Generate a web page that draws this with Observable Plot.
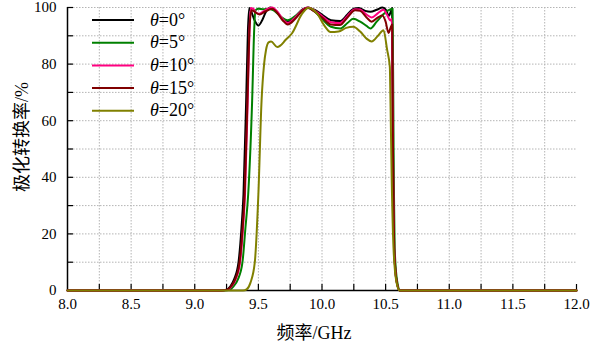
<!DOCTYPE html>
<html><head><meta charset="utf-8">
<script src="https://cdn.jsdelivr.net/npm/d3@7"></script>
<script src="https://cdn.jsdelivr.net/npm/@observablehq/plot@0.6"></script>
<style>
body{margin:0;background:#fff}
#chart{position:relative;width:609px;height:348px}
#chart svg text{font-family:"Liberation Serif","Times New Roman","Noto Sans CJK SC",serif !important;font-variant-numeric:normal !important}
</style>
</head><body><div id="chart"></div>
<script>
// frequency (GHz), polarization conversion rate (%)
const theta0 = [[8,0],[9.2,0],[9.25,0.3],[9.28,1.5],[9.31,4],[9.344,10],[9.367,22],[9.383,34],[9.404,67],[9.418,92],[9.428,99.8],[9.44,99],[9.47,95.5],[9.5,93.6],[9.53,95.5],[9.56,98.5],[9.595,100],[9.63,99],[9.68,96.5],[9.73,95],[9.79,96.8],[9.85,99.4],[9.89,100],[9.94,99.2],[10.0,97.5],[10.07,95.5],[10.145,95.2],[10.2,97.5],[10.25,99.6],[10.29,99.8],[10.34,98.8],[10.38,98.5],[10.43,99.2],[10.475,100],[10.505,99],[10.525,97],[10.54,98.5],[10.551,99.8],[10.556,60],[10.56,39],[10.567,15],[10.585,3.5],[10.61,0],[12,0]];
const theta5 = [[8,0],[9.23,0],[9.275,0.3],[9.305,1.5],[9.34,4],[9.375,10],[9.398,22],[9.42,34],[9.451,67],[9.467,92],[9.477,99],[9.5,99.6],[9.54,99.4],[9.58,99.6],[9.62,99],[9.67,97],[9.73,95.5],[9.79,97],[9.85,99.2],[9.89,99.9],[9.94,98.7],[10.0,96],[10.07,93.2],[10.145,92.6],[10.2,94.5],[10.245,96],[10.3,95],[10.35,93.5],[10.381,92.6],[10.43,95],[10.48,97.5],[10.52,99],[10.554,99.6],[10.56,70],[10.564,40],[10.571,15],[10.59,3.5],[10.615,0],[12,0]];
const theta10 = [[8,0],[9.21,0],[9.26,0.3],[9.29,1.5],[9.322,4],[9.356,10],[9.379,22],[9.395,34],[9.416,67],[9.43,92],[9.44,99.8],[9.46,99.5],[9.485,98],[9.505,97.8],[9.535,98.5],[9.57,99.5],[9.608,100],[9.65,98.5],[9.69,96],[9.73,94.5],[9.79,96.5],[9.85,99.3],[9.89,100],[9.94,99],[10.0,97],[10.07,94.8],[10.14,94.5],[10.2,97],[10.26,99.4],[10.3,99.3],[10.35,97.5],[10.39,96.5],[10.44,98],[10.483,99.2],[10.51,97.5],[10.538,95.4],[10.548,96],[10.553,80],[10.557,50],[10.562,30],[10.569,13],[10.587,3],[10.612,0],[12,0]];
const theta15 = [[8,0],[9.21,0],[9.255,0.3],[9.285,1.5],[9.318,4],[9.352,10],[9.376,22],[9.392,34],[9.414,67],[9.43,92],[9.445,99],[9.47,98.5],[9.51,97.5],[9.55,98.5],[9.61,99.6],[9.65,98],[9.69,95.5],[9.73,94],[9.79,96],[9.85,99],[9.89,99.8],[9.94,98.6],[10.0,96.5],[10.07,94],[10.14,93.8],[10.2,96.5],[10.26,99],[10.3,98.8],[10.35,96.5],[10.39,95],[10.44,96.5],[10.475,97.2],[10.5,95],[10.523,91],[10.54,93],[10.552,94],[10.556,60],[10.56,39],[10.567,15],[10.586,3.5],[10.611,0],[12,0]];
const theta20 = [[8,0],[9.38,0],[9.41,0.5],[9.438,2.8],[9.472,10],[9.5,34],[9.525,67],[9.545,80],[9.56,85],[9.58,87.7],[9.6,88],[9.648,86],[9.674,86.6],[9.713,88.5],[9.766,91],[9.844,97.8],[9.894,99.9],[9.962,97.8],[10.02,93.5],[10.067,91.3],[10.13,91.5],[10.19,92.8],[10.245,93.2],[10.3,91.5],[10.35,89],[10.39,88],[10.44,90],[10.483,92],[10.512,85],[10.533,79],[10.538,67],[10.548,39],[10.562,15],[10.585,3],[10.61,0],[12,0]];

const seriesNames = ["0°","5°","10°","15°","20°"];
const seriesColors = ["#000000","#008000","#ff0080","#800000","#808000"];
const seriesData = [theta0, theta5, theta10, theta15, theta20];

const xTickLabels = [8.0,8.5,9.0,9.5,10.0,10.5,11.0,11.5,12.0];
const xMinorTicks = [8.25,8.5,8.75,9.0,9.25,9.5,9.75,10.0,10.25,10.5,10.75,11.0,11.25,11.5,11.75,12.0];
const xGridLines = [8.25,8.5,8.75,9.0,9.25,9.5,9.75,10.0,10.25,10.5,10.75,11.0,11.25,11.5,11.75];
const yTickLabels = [0,20,40,60,80,100];
const yMinorTicks = [10,20,30,40,50,60,70,80,90,100];
const xTitle = "频率/GHz";
const yTitle = "极化转换率/%";

const W = 609, H = 348, mL = 67, mR = 33, mT = 7, mB = 58;
const frameW = W - mL - mR, frameH = H - mT - mB;
const gridStyle = {stroke:"#b4b4b4", strokeOpacity:1, strokeWidth:1, strokeDasharray:"1.5,1.5"};

const chart = Plot.plot({
  width: W, height: H,
  marginLeft: mL, marginRight: mR, marginTop: mT, marginBottom: mB,
  x: {domain: [8, 12]},
  y: {domain: [0, 100]},
  style: {fontSize: "15px", color: "#000", background: "#fff"},
  marks: [
    Plot.gridX(xGridLines, gridStyle),
    Plot.gridY(yMinorTicks, gridStyle),
    Plot.tickX(xMinorTicks, {stroke: "#000", strokeWidth: 1.2, insetTop: frameH - 6}),
    Plot.tickY(yMinorTicks, {stroke: "#000", strokeWidth: 1.2, insetRight: frameW - 6}),
    Plot.axisX(xTickLabels, {tickSize: 0, tickPadding: 8, tickFormat: d => d.toFixed(1), label: null}),
    Plot.axisY(yTickLabels, {tickSize: 0, tickPadding: 11, tickFormat: d => String(d), label: null}),
    Plot.ruleX([8], {stroke: "#000", strokeWidth: 1.5}),
    Plot.ruleY([0], {stroke: "#000", strokeWidth: 1.5}),
    ...seriesData.map((data, i) => Plot.line(data, {x: d => d[0], y: d => d[1], stroke: seriesColors[i], strokeWidth: 2, curve: "monotone-x"}))
  ]
});
document.getElementById("chart").appendChild(chart);

// overlay: legend and axis titles
const ov = d3.select("#chart").append("svg")
  .attr("width", W).attr("height", H)
  .style("position", "absolute").style("left", "0px").style("top", "0px")
  .style("pointer-events", "none");
seriesNames.forEach((name, i) => {
  const cy = 20 + i * 22.7;
  ov.append("line").attr("x1", 92).attr("x2", 134).attr("y1", cy).attr("y2", cy)
    .attr("stroke", seriesColors[i]).attr("stroke-width", 2);
  const t = ov.append("text").attr("x", 150).attr("y", cy + 5.5)
    .style("font-size", "18px").attr("fill", "#000");
  t.append("tspan").style("font-style", "italic").text("θ");
  t.append("tspan").text("=" + name);
});
ov.append("text").attr("x", 314).attr("y", 333).attr("text-anchor", "middle")
  .attr("dominant-baseline", "central").style("font-size", "18px").text(xTitle);
ov.append("text").attr("transform", "translate(22,137) rotate(-90)").attr("text-anchor", "middle")
  .attr("dominant-baseline", "central").style("font-size", "18px").text(yTitle);
</script>
</body></html>
